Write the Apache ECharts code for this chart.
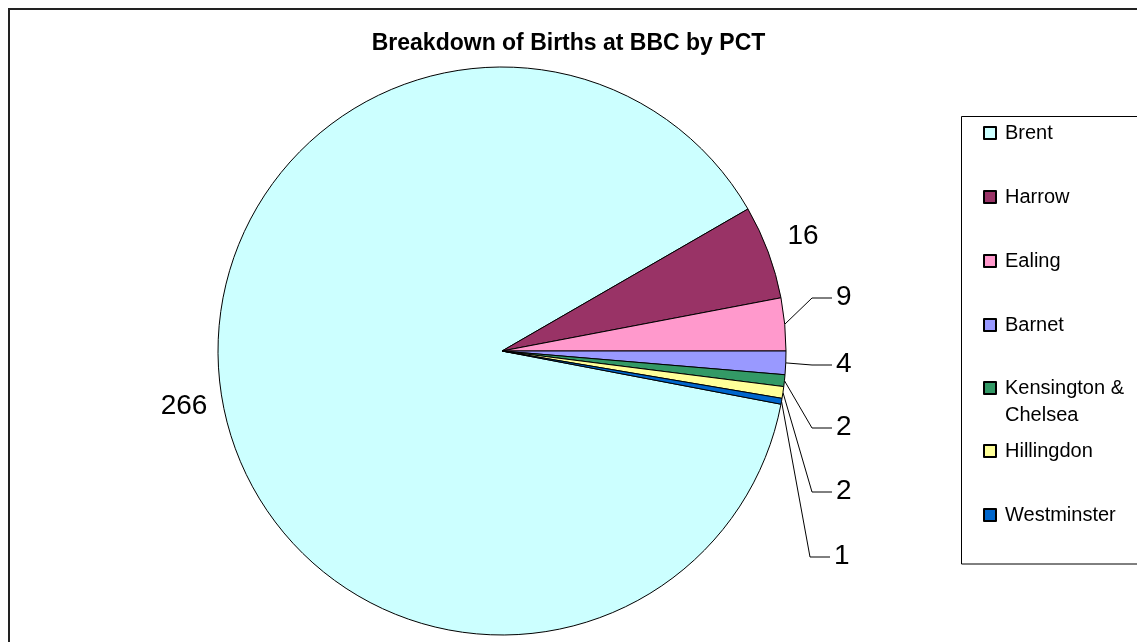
<!DOCTYPE html>
<html>
<head>
<meta charset="utf-8">
<title>Breakdown of Births at BBC by PCT</title>
<script src="https://cdn.jsdelivr.net/npm/echarts@6/dist/echarts.min.js"></script>
<style>
  html, body { margin: 0; padding: 0; background: #fff; }
  #pie { width: 1137px; height: 642px; }
</style>
</head>
<body>
<div id="pie"></div>
<script>
(function () {
    var myChart = echarts.init(document.getElementById('pie'));

    // data
    var pcts = ['Brent', 'Harrow', 'Ealing', 'Barnet', 'Kensington & Chelsea', 'Hillingdon', 'Westminster'];
    var births = [266, 16, 9, 4, 2, 2, 1];

    // excel 97 palette
    var sliceColors = ['#CCFFFF', '#993366', '#FF99CC', '#9999FF', '#339966', '#FFFF99', '#0066CC'];

    // where the data labels were dragged to
    var labelSpots = [
        [184, 406],
        [803, 236],
        [836, 297],
        [836, 364],
        [836, 427],
        [836, 491],
        [834, 556]
    ];

    var font = 'Liberation Sans, Arial, sans-serif';

    var pieData = births.map(function (v, i) {
        return {
            name: pcts[i],
            value: v,
            itemStyle: { color: sliceColors[i] },
            labelLine: { show: i > 1 }
        };
    });

    // excel legend: the wrapped entry keeps its marker on the first line,
    // so it is split into three stacks inside one drawn box
    function legendPart(names, top, fmt) {
        return {
            orient: 'vertical',
            left: 983,
            top: top,
            padding: 0,
            itemGap: 37,
            itemWidth: 12,
            itemHeight: 12,
            icon: 'rect',
            selectedMode: false,
            formatter: fmt || '{name}',
            textStyle: {
                fontFamily: font,
                fontSize: 20,
                lineHeight: 27,
                color: '#000',
                padding: [0, 0, 0, 4]
            },
            data: names
        };
    }

    option = {
        animation: false,
        backgroundColor: '#fff',
        title: {
            text: 'Breakdown of Births at BBC by PCT',
            left: 'center',
            top: 32,
            padding: 0,
            textStyle: {
                fontFamily: font,
                fontSize: 23,
                fontWeight: 'bold',
                color: '#000'
            }
        },
        legend: [
            legendPart(pcts.slice(0, 4), 119.5),
            // empty first line so the text block starts level with the marker
            legendPart(pcts.slice(4, 5), 347.5, function (name) {
                return '\n' + name.replace(' & ', ' &\n');
            }),
            legendPart(pcts.slice(5), 437.5)
        ],
        graphic: [
            {
                type: 'rect',
                silent: true,
                shape: { x: 9, y: 9, width: 1400, height: 900 },
                style: { fill: 'none', stroke: '#222', lineWidth: 2 }
            },
            {
                type: 'rect',
                silent: true,
                shape: { x: 961.5, y: 116.5, width: 300, height: 447.5 },
                style: { fill: 'none', stroke: '#000', lineWidth: 1 }
            }
        ],
        series: [
            {
                type: 'pie',
                center: [502, 351],
                radius: 284,
                startAngle: 349.2,
                clockwise: true,
                avoidLabelOverlap: false,
                emphasis: { disabled: true },
                itemStyle: {
                    borderColor: '#000',
                    borderWidth: 1
                },
                label: {
                    show: true,
                    position: 'outside',
                    formatter: '{c}',
                    fontFamily: font,
                    fontSize: 28,
                    color: '#000'
                },
                labelLine: {
                    length: 10,
                    length2: 10,
                    lineStyle: { color: '#000', width: 1 }
                },
                labelLayout: function (p) {
                    var s = labelSpots[p.dataIndex];
                    if (p.dataIndex < 2) {
                        return { x: s[0], y: s[1], align: 'center', verticalAlign: 'middle' };
                    }
                    var out = { x: s[0], y: s[1], align: 'left', verticalAlign: 'middle' };
                    if (p.labelLinePoints) {
                        var edge = p.labelLinePoints[0];
                        var ly = s[1] + 1;
                        out.labelLinePoints = [
                            [edge[0], edge[1]],
                            [s[0] - 24, ly],
                            [s[0] - 4, ly]
                        ];
                    }
                    return out;
                },
                data: pieData
            }
        ]
    };

    myChart.setOption(option);

    window.addEventListener('resize', function () {
        myChart.resize();
    });
})();
</script>
</body>
</html>
